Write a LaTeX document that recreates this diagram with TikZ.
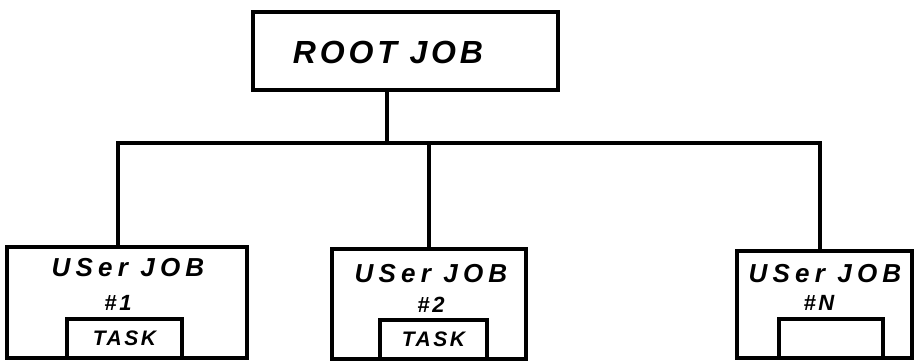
\documentclass[tikz,border=0pt]{standalone}
\usepackage{fontspec}
\newfontfamily\hand[LetterSpace=12]{Liberation Sans}
\newfontfamily\handwide[LetterSpace=20]{Liberation Sans}

\tikzset{
  box/.style={draw, line width=3.4pt, inner sep=0pt},
  wire/.style={line width=3.2pt},
  roottext/.style={inner sep=0pt, font=\hand\bfseries\itshape\fontsize{32}{36}\selectfont},
  jobtext/.style={inner sep=0pt, font=\handwide\bfseries\itshape\fontsize{26}{28}\selectfont},
  numtext/.style={inner sep=0pt, font=\hand\bfseries\itshape\fontsize{22}{24}\selectfont},
  tasktext/.style={font=\hand\bfseries\itshape\fontsize{21}{22}\selectfont},
}

\begin{document}
\begin{tikzpicture}[x=1pt,y=-1pt]
    \useasboundingbox (0,0) rectangle (916,362);

    % root
    \node[box, minimum width=305, minimum height=78] (root) at (405.5,51) {};
    \node[roottext] (rootlbl) at (388,52) {ROOT JOB};

    % user jobs
    \node[box, minimum width=240, minimum height=111] (job1) at (127,302.5) {};
    \node[jobtext] (job1lbl) at (128,268) {USer JOB};
    \node[numtext] (job1num) at (118,303) {\#1};
    \node[box, tasktext, minimum width=115, minimum height=39] (task1) at (124.5,338.5) {TASK};

    \node[box, minimum width=194, minimum height=110] (job2) at (429,304) {};
    \node[jobtext] (job2lbl) at (431,274) {USer JOB};
    \node[numtext] (job2num) at (431,305) {\#2};
    \node[box, tasktext, minimum width=107, minimum height=39] (task2) at (433.5,339.5) {TASK};

    \node[box, minimum width=175, minimum height=107] (job3) at (824.5,304.5) {};
    \node[jobtext] (job3lbl) at (825,274) {USer JOB};
    \node[numtext] (job3num) at (819,303) {\#N};
    \node[box, minimum width=104, minimum height=39] (task3) at (831,338.5) {};

    % tree lines
    \coordinate (hub) at (387,143);
    \coordinate (barl) at (118,143);
    \coordinate (barr) at (820,143);
    \draw[wire] (root.south -| hub) -- (hub);
    \draw[wire] (job1.north -| barl) -- (barl) -- (barr) -- (job3.north -| barr);
    \draw[wire] (job2.north |- hub) -- (job2.north);
\end{tikzpicture}
\end{document}
